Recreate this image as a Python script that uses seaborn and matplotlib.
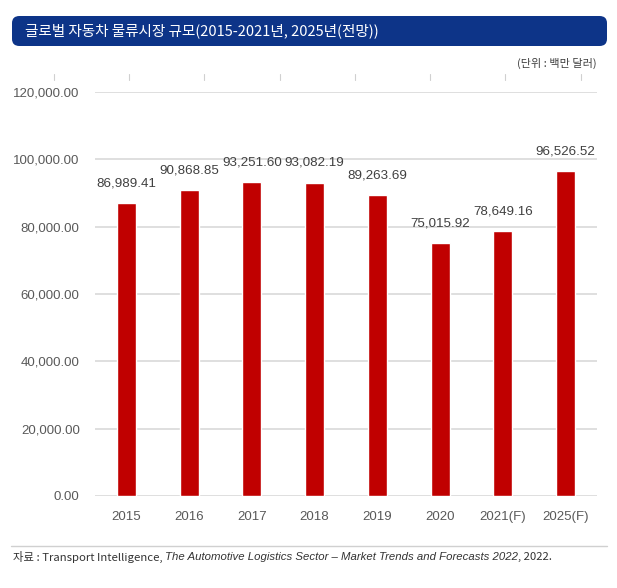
import matplotlib
matplotlib.use("Agg")
import matplotlib.pyplot as plt
import seaborn as sns
import pandas as pd
from matplotlib.patches import FancyBboxPatch
from matplotlib.lines import Line2D

# Data
years = ["2015", "2016", "2017", "2018", "2019", "2020", "2021(F)", "2025(F)"]
market_size = [86989.41, 90868.85, 93251.60, 93082.19, 89263.69, 75015.92, 78649.16, 96526.52]
y_ticks = [0, 20000, 40000, 60000, 80000, 100000, 120000]

TITLE = "글로벌 자동차 물류시장 규모(2015-2021년, 2025년(전망))"
UNIT = "(단위 : 백만 달러)"

sns.set_theme(style="white")
plt.rcParams["font.family"] = ["Noto Sans CJK KR", "DejaVu Sans"]
NUM_FONT = "Liberation Sans"

W, H = 617, 588
fig = plt.figure(figsize=(W / 100, H / 100), dpi=100)
ax = fig.add_axes([95 / W, 1 - 496 / H, 502 / W, (496 - 92) / H])

df = pd.DataFrame({"year": years, "value": market_size})
sns.barplot(data=df, x="year", y="value", color="#c00000", width=0.3,
            saturation=1, ax=ax, zorder=3)

ax.set_xlim(-0.5, len(years) - 0.5)
ax.set_ylim(0, 120000)
ax.set_yticks(y_ticks)
ax.set_yticklabels([f"{v:,.2f}" for v in y_ticks], fontfamily=NUM_FONT,
                   fontsize=9.5, color="#595959")
ax.set_xticks(range(len(years)))
ax.set_xticklabels(years, fontfamily=NUM_FONT, fontsize=9.5, color="#595959")
ax.tick_params(axis="y", length=0, pad=11)
ax.tick_params(axis="x", length=0, pad=11)
ax.set_xlabel("")
ax.set_ylabel("")
for s in ax.spines.values():
    s.set_visible(False)
ax.grid(axis="y", color="#d9d9d9", lw=1.2, zorder=0)
ax.grid(axis="x", visible=False)

for i, v in enumerate(market_size):
    ax.annotate(f"{v:,.2f}", (i, v), xytext=(0, 10), textcoords="offset points",
                ha="center", va="bottom", fontfamily=NUM_FONT, fontsize=9.6,
                color="#404040")

# faint tick marks above the plot
for px in [54, 129, 204, 280, 355, 430, 505, 581]:
    fig.add_artist(Line2D([px / W, px / W], [1 - 74 / H, 1 - 80 / H],
                          color="#d0d0d0", lw=0.8))

# title banner
box = FancyBboxPatch((12 / W, 1 - 46 / H), 595 / W, 30 / H,
                     boxstyle="round,pad=0,rounding_size=0.012",
                     transform=fig.transFigure, facecolor="#0d3488",
                     edgecolor="none")
fig.add_artist(box)
fig.text(25 / W, 1 - 31 / H, TITLE, color="white", fontsize=10.5,
         fontweight="medium", va="center", ha="left")

fig.text(597 / W, 1 - 63 / H, UNIT, color="#404040", fontsize=8,
         ha="right", va="center")

# source line
fig.add_artist(Line2D([11 / W, 607 / W], [1 - 546 / H, 1 - 546 / H],
                      color="#d0d0d0", lw=1))
src = fig.text(13 / W, 1 - 557 / H, "자료 : Transport Intelligence, ",
               fontsize=8.2, color="#333333", va="center", ha="left")
fig.canvas.draw()
r = fig.canvas.get_renderer()
bb = src.get_window_extent(r)
it = fig.text(bb.x1 / W, 1 - 557 / H,
              "The Automotive Logistics Sector \u2013 Market Trends and Forecasts 2022",
              fontsize=8.2, color="#333333", va="center", ha="left",
              style="italic", family=["Liberation Sans"])
bb2 = it.get_window_extent(r)
fig.text(bb2.x1 / W, 1 - 557 / H, ", 2022.", fontsize=8.2, color="#333333",
         va="center", ha="left")

fig.savefig("out.png", dpi=100)
